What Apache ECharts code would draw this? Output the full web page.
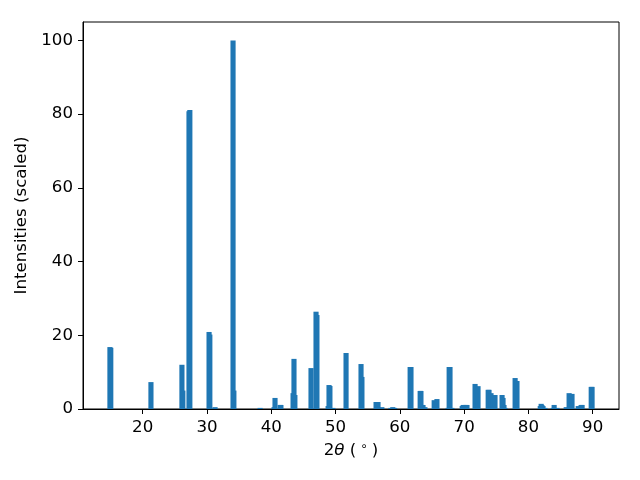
<!DOCTYPE html>
<html>
<head>
<meta charset="utf-8">
<script src="https://cdn.jsdelivr.net/npm/echarts@6/dist/echarts.min.js"></script>
<style>html,body{margin:0;padding:0;background:#fff}#c{width:640px;height:480px}</style>
</head>
<body>
<div id="c"></div>
<script>
var peakPositions = [14.90,15.03,21.28,26.10,26.24,27.20,27.33,30.32,30.44,31.25,34.05,34.18,38.26,40.43,40.58,41.38,41.50,43.39,43.53,43.67,46.18,46.96,47.10,48.84,48.98,49.12,49.59,51.63,53.96,54.10,56.30,56.60,57.20,58.60,58.90,59.20,61.60,61.73,63.16,63.28,63.60,63.90,65.34,65.77,67.50,67.67,67.80,68.10,69.70,69.85,70.15,70.44,71.70,72.16,73.74,73.87,74.18,74.50,74.80,75.90,76.05,76.20,76.36,77.93,78.22,81.84,81.98,82.10,82.27,82.58,83.86,84.00,84.45,85.88,86.33,86.78,87.75,88.20,88.35,89.77,89.90];
var peakIntensities = [16.8,16.6,7.3,12.0,5.0,80.8,81.1,20.9,20.2,0.5,100,5.0,0.3,0.5,3.0,1.1,1.1,4.3,13.6,3.8,11.1,26.4,25.5,0.8,6.5,6.25,0.3,15.2,12.2,8.7,1.9,1.9,0.5,0.3,0.5,0.3,11.4,11.4,4.9,4.9,1.1,0.5,2.4,2.7,0.3,11.4,11.4,0.3,0.8,1.1,1.1,1.1,6.8,6.2,5.2,5.2,4.3,3.8,3.8,3.8,3.0,1.1,0.3,8.4,7.6,0.8,1.4,1.1,0.8,0.3,0.3,1.1,0.3,0.5,4.3,4.1,0.8,1.1,1.1,6.0,6.0];
var xTicks = [20,30,40,50,60,70,80,90];
var yTicks = [0,20,40,60,80,100];
var barWidth = 0.8;

var data = peakPositions.map(function(p,i){return [p, peakIntensities[i]];});
var font = 'DejaVu Sans';
var chart = echarts.init(document.getElementById('c'), null, {renderer:'canvas'});
chart.setOption({
  animation:false,
  backgroundColor:'#fff',
  grid:{left:83,right:21,top:22,bottom:71,show:true,borderColor:'#000',borderWidth:1,backgroundColor:'transparent'},
  xAxis:{
    type:'value', min:10.71, max:94.09,
    name:'2{i|θ} ({s|∘})',
    nameLocation:'middle', nameGap:31,
    nameTextStyle:{fontFamily:font,fontSize:16.67,color:'#000',
      rich:{i:{fontFamily:font,fontStyle:'italic',fontSize:16.67,color:'#000'},
            s:{fontFamily:font,fontSize:12,color:'#000',padding:[0,4,7,4]}}},
    axisLine:{show:true,lineStyle:{color:'#000',width:1}},
    axisTick:{show:true,inside:false,length:5,customValues:xTicks,lineStyle:{color:'#000',width:1}},
    axisLabel:{customValues:xTicks,margin:10,fontFamily:font,fontSize:16.67,color:'#000'},
    splitLine:{show:false}
  },
  yAxis:{
    type:'value', min:0, max:105,
    name:'Intensities (scaled)',
    nameLocation:'middle', nameGap:46, nameRotate:90,
    nameTextStyle:{fontFamily:font,fontSize:16.67,color:'#000'},
    axisLine:{show:true,lineStyle:{color:'#000',width:1}},
    axisTick:{show:true,inside:false,length:5,customValues:yTicks,lineStyle:{color:'#000',width:1}},
    axisLabel:{customValues:yTicks,margin:10,fontFamily:font,fontSize:16.67,color:'#000'},
    splitLine:{show:false}
  },
  series:[{
    type:'custom',
    clip:true,
    data:data,
    encode:{x:0,y:1},
    renderItem:function(params, api){
      var x = api.value(0), h = api.value(1);
      var p1 = api.coord([x - barWidth/2, h]);
      var p2 = api.coord([x + barWidth/2, 0]);
      return {type:'rect', shape:{x:p1[0], y:p1[1], width:p2[0]-p1[0], height:p2[1]-p1[1]},
        style:{fill:'#1f77b4'}};
    }
  }]
});
</script>
</body>
</html>
